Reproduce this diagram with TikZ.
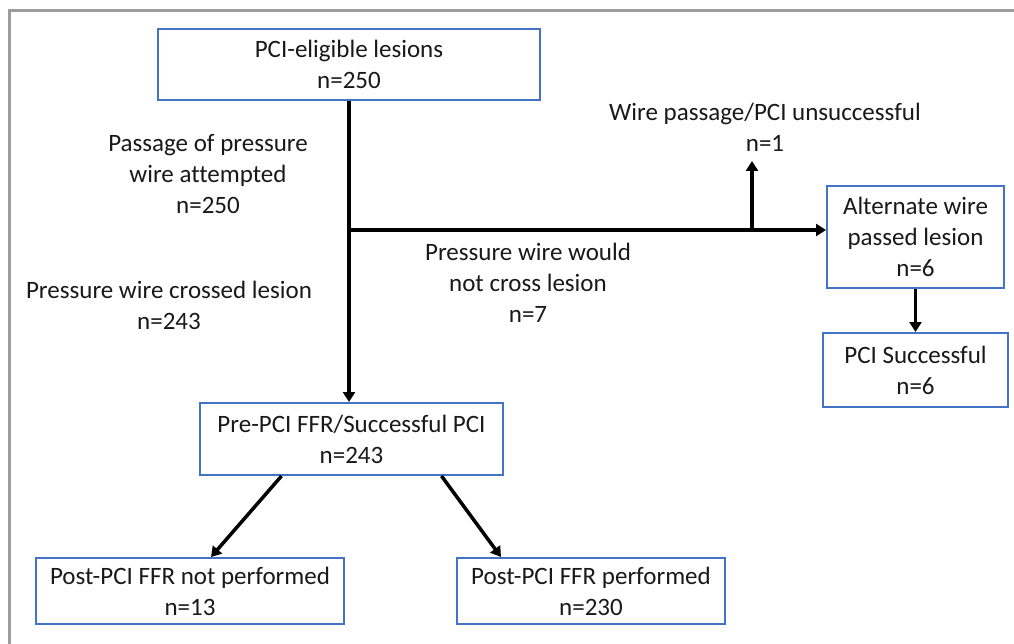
\documentclass[tikz,border=0pt]{standalone}
\usepackage{fontspec}
\setmainfont[Ligatures=NoCommon]{Carlito}
\usetikzlibrary{arrows.meta,calc}
\definecolor{boxblue}{HTML}{4472C4}
\definecolor{framegray}{HTML}{9C9C9C}
\begin{document}
\begin{tikzpicture}[x=1pt,y=-1pt,
  every node/.style={font=\fontsize{25}{31}\selectfont, text=black!90, inner sep=0pt},
  flowbox/.style={draw=boxblue, line width=2pt, align=center, fill=white},
  lbl/.style={align=center},
  conn/.style={line width=3.5pt, draw=black},
  arr/.style={conn, -{Triangle[length=10pt,width=12pt]}}]
\useasboundingbox (0,0) rectangle (1014,644);
\fill[white] (0,0) rectangle (1014,644);
% frame
\draw[framegray, line width=3pt] (9.5,644) -- (9.5,10.5) -- (1014,10.5);
% boxes
\node[flowbox, minimum width=382pt, minimum height=71pt] (top) at (349,64.5) {PCI-eligible lesions\\n=250};
\node[flowbox, minimum width=303pt, minimum height=72pt] (pre) at (351.5,439) {Pre-PCI FFR/Successful PCI\\n=243};
\node[flowbox, minimum width=177pt, minimum height=102pt] (alt) at (915.5,237) {Alternate wire\\passed lesion\\n=6};
\node[flowbox, minimum width=185pt, minimum height=74pt] (succ) at (915.5,370) {PCI Successful\\n=6};
\node[flowbox, minimum width=308pt, minimum height=66pt] (bl) at (190,591) {Post-PCI FFR not performed\\n=13};
\node[flowbox, minimum width=268pt, minimum height=66pt] (br) at (591,591) {Post-PCI FFR performed\\n=230};
% labels
\node[lbl] (lpass) at (208,174) {Passage of pressure\\wire attempted\\n=250};
\node[lbl] (lcross) at (169,305) {Pressure wire crossed lesion\\n=243};
\node[lbl] (lnot) at (528,283) {Pressure wire would\\not cross lesion\\n=7};
\node[lbl] (lfail) at (765,127) {Wire passage/PCI unsuccessful\\n=1};
% connectors
\coordinate (jn) at (349,230);
\coordinate (b) at (752,230);
\coordinate (u) at (752,161);
\draw[arr] (top.south) -- (top.south |- pre.north);
\draw[arr] (jn) -- (alt.west |- jn);
\draw[arr] (b) -- (u);
\draw[arr] (alt.south) -- (succ.north);
\draw[arr] ([xshift=-70pt]pre.south) -- ([xshift=21pt]bl.north);
\draw[arr] ([xshift=90pt]pre.south) -- ([xshift=-90pt]br.north);
\end{tikzpicture}
\end{document}
